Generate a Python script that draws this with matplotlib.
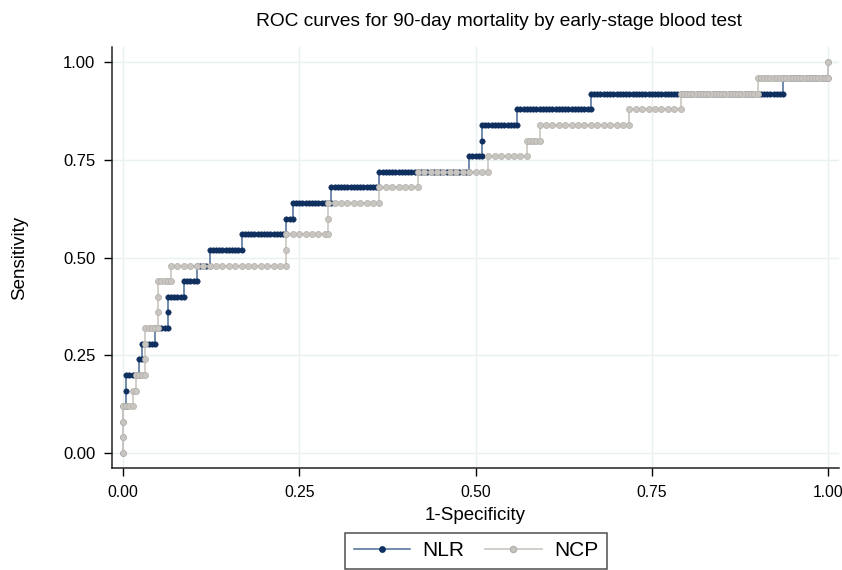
import numpy as np
import matplotlib
matplotlib.use("Agg")
import matplotlib.pyplot as plt
from matplotlib.lines import Line2D

plt.rcParams['font.family'] = ['Liberation Sans', 'DejaVu Sans']

# ---- data ----
N_NEG = 220          # estimated number of controls (marker spacing)
sens_levels = [i / 25 for i in range(26)]   # 25 cases -> steps of 0.04

# 1-specificity at which each sensitivity level's horizontal run ends
nlr_run_end = [0.000, 0.000, 0.000, 0.005, 0.005, 0.021, 0.025, 0.045, 0.062, 0.062,
               0.085, 0.106, 0.122, 0.168, 0.231, 0.240, 0.296, 0.362, 0.490, 0.507,
               0.507, 0.557, 0.665, 0.937, 1.000, 1.000]
ncp_run_end = [0.000, 0.000, 0.000, 0.013, 0.019, 0.034, 0.034, 0.034, 0.050, 0.050,
               0.050, 0.067, 0.234, 0.234, 0.291, 0.291, 0.364, 0.417, 0.520, 0.573,
               0.591, 0.717, 0.792, 0.899, 1.000, 1.000]
# spacing of tied cutoffs along each run (NCP has many ties)
nlr_tie = [1] * 26
ncp_tie = [1, 1, 1, 1, 1, 1, 1, 1, 1, 1,
           1, 1, 2, 1, 2, 1, 2, 2, 2, 2,
           1, 2, 2, 1, 1, 1]

xticks = [0.00, 0.25, 0.50, 0.75, 1.00]
yticks = [0.00, 0.25, 0.50, 0.75, 1.00]
tick_labels = ["0.00", "0.25", "0.50", "0.75", "1.00"]


def roc_points(run_end, tie):
    xs, ys = [], []
    start = 0
    for lvl, end, st in zip(sens_levels, run_end, tie):
        c0 = int(round(start * N_NEG))
        c1 = int(round(end * N_NEG))
        cs = list(range(c0, c1 + 1, st))
        if cs[-1] != c1:
            cs.append(c1)
        for c in cs:
            xs.append(c / N_NEG)
            ys.append(lvl)
        start = end
    return np.array(xs), np.array(ys)


nlr_x, nlr_y = roc_points(nlr_run_end, nlr_tie)
ncp_x, ncp_y = roc_points(ncp_run_end, ncp_tie)

W, H = 842, 570
fig = plt.figure(figsize=(W / 100, H / 100), dpi=100)
ax = fig.add_axes([112 / W, 1 - 468 / H, (839 - 112) / W, (468 - 47) / H])

NAVY_LINE = '#4a6d94'
NAVY_MK = '#0f2f5f'
GREY_LINE = '#cfcbc6'
GREY_MK = '#c9c6c1'
GREY_EDGE = '#b3b0ab'

ax.plot(nlr_x, nlr_y, '-', color=NAVY_LINE, lw=1.1, zorder=3)
ax.plot(nlr_x, nlr_y, 'o', ms=3.9, mfc=NAVY_MK, mec=NAVY_MK, mew=0.4, zorder=4)
ax.plot(ncp_x, ncp_y, '-', color=GREY_LINE, lw=1.3, zorder=5)
ax.plot(ncp_x, ncp_y, 'o', ms=4.4, mfc=GREY_MK, mec=GREY_EDGE, mew=0.5, zorder=6)

x0 = -11 / 705
ax.set_xlim(x0, 1 - x0)
y0 = -15 / 391
ax.set_ylim(y0, 1 - y0 + 0.001)

ax.set_xticks(xticks)
ax.set_xticklabels(tick_labels)
ax.set_yticks(yticks)
ax.set_yticklabels(tick_labels)
ax.tick_params(axis='both', direction='out', length=6, width=1.0,
               colors='black', pad=6)
ax.tick_params(axis='y', labelsize=12)
ax.tick_params(axis='x', labelsize=11.3)
ax.grid(True, color='#e8f0f1', lw=1.0, zorder=0)
ax.set_axisbelow(True)
for s in ['top', 'right']:
    ax.spines[s].set_visible(False)
for s in ['left', 'bottom']:
    ax.spines[s].set_linewidth(1.1)
    ax.spines[s].set_color('#222222')

ax.set_xlabel('1-Specificity', fontsize=13.5, labelpad=5)
ax.set_ylabel('Sensitivity', fontsize=13.5)
ax.yaxis.set_label_coords((13 - 112) / 727 + 0.021, 0.5)

fig.text(499 / W, 1 - 22 / H, 'ROC curves for 90-day mortality by early-stage blood test',
         ha='center', va='center', fontsize=13.8)

handles = [
    Line2D([0], [0], color=NAVY_LINE, lw=1.1, marker='o', ms=3.9, mfc=NAVY_MK, mec=NAVY_MK),
    Line2D([0], [0], color=GREY_LINE, lw=1.3, marker='o', ms=4.4, mfc=GREY_MK, mec=GREY_EDGE),
]
leg = fig.legend(handles, ['NLR', 'NCP'], loc='upper center',
                 bbox_to_anchor=(476 / W, 1 - 533 / H), ncol=2, fontsize=15,
                 frameon=True, fancybox=False, edgecolor='#222222', handlelength=2.7,
                 columnspacing=1.0, borderpad=0.4, handletextpad=0.6, borderaxespad=0)
leg.get_frame().set_linewidth(1.1)

fig.savefig('out.png', dpi=100)
